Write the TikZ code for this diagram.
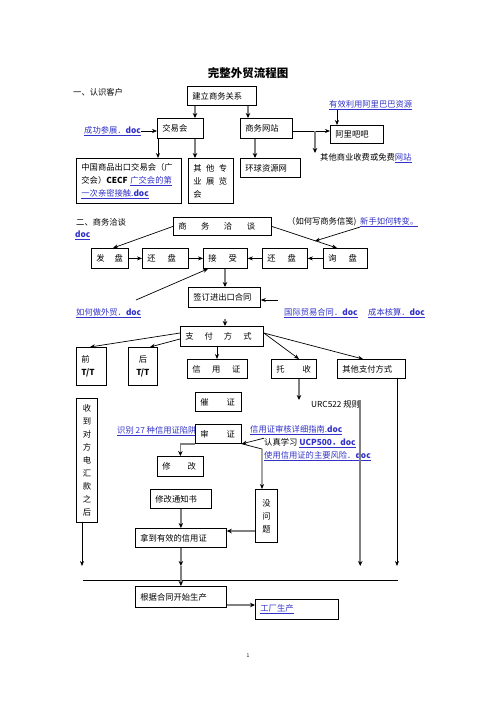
\documentclass[tikz,border=0pt]{standalone}
\usepackage{fontspec}
\setmainfont{Noto Sans CJK SC}
\usetikzlibrary{arrows.meta,calc}
\definecolor{linkblue}{RGB}{50,50,200}
\definecolor{arrgray}{RGB}{128,128,128}
\newcommand{\lnk}[1]{\textcolor{linkblue}{\underline{#1}}}

\begin{document}
\begin{tikzpicture}[x=1pt, y=-1pt,
  every node/.style={font=\fontsize{8.3}{13}\selectfont, inner sep=0pt},
  box/.style={draw, fill=white, line width=0.8pt, anchor=north west, inner xsep=5pt, inner ysep=2pt, align=left},
  arr/.style={-{Stealth[length=5pt,width=4pt]}, line width=0.7pt},
  garr/.style={-{Stealth[length=5pt,width=4.5pt,color=black]}, line width=1.6pt, draw=arrgray},
  lbl/.style={anchor=west}]
\useasboundingbox (0,0) rectangle (496,702);

\node[font=\fontsize{11.5}{14}\selectfont\bfseries] (title) at (248,73) {完整外贸流程图};

% part one
\node[lbl] (sec1) at (73,92) {一、认识客户};
\node[box, text width=59pt, minimum height=19pt] (jianli) at (187,86) {建立商务关系};
\node[box, text width=36pt, minimum height=20pt] (jyh) at (157,118) {交易会};
\node[box, text width=42pt, minimum height=20pt] (swwz) at (240,118) {商务网站};
\node[box, text width=43pt, minimum height=18pt] (albb) at (330,125) {阿里吧吧};
\node[lbl] (albbtxt) at (329,105) {\lnk{有效利用阿里巴巴资源}};
\node[lbl] (cgcz) at (84,131) {\lnk{成功参展．\textbf{doc}}};
\node[lbl] (qtsy) at (320,158) {其他商业收费或免费\lnk{网站}};
\node[box, text width=95pt, minimum height=45pt] (cnexpo) at (76,158)
  {中国商品出口交易会（广\\交会）\textbf{CECF} \lnk{广交会的第}\\\lnk{一次亲密接触.\textbf{doc}}};
\node[box, text width=35pt, minimum height=45pt] (qtzl) at (188,158)
  {\mbox{其\hspace{4.5pt}他\hspace{4.5pt}专}\\\mbox{业\hspace{4.5pt}展\hspace{4.5pt}览}\\会};
\node[box, text width=50pt, minimum height=19pt] (hqzy) at (240,158) {环球资源网};

\draw[garr] (195,0 |- jianli.south) -- (195,0 |- jyh.north);
\draw[garr] (248,0 |- jianli.south) -- (248,0 |- swwz.north);
\draw[arr] (337,0 |- albbtxt.south) -- (337,0 |- albb.north);
\draw[arr] (swwz.east |- 0,131) -- (albb.west |- 0,131);
\coordinate (br) at (315,131);
\draw[garr] (br) -- (br |- qtsy.north);
\draw[arr] (cgcz.east) -- (jyh.west |- cgcz.east);
\draw[arr, line width=1pt] (158,0 |- jyh.south) -- (158,0 |- cnexpo.north);
\draw[garr] (195,0 |- jyh.south) -- (195,0 |- qtzl.north);
\draw[garr] (255,0 |- swwz.south) -- (255,0 |- hqzy.north);

% part two
\node[lbl] (sec2) at (76,222) {二、商务洽谈};
\node[lbl] (doc2) at (75,235) {\lnk{\textbf{doc}}};
\node[lbl] (xhsj) at (287,222) {（如何写商务信笺)};
\node[lbl] (xinshou) at (360,222) {\lnk{新手如何转变。}};
\node[box, text width=88pt, minimum height=18pt] (swqt) at (173,217)
  {\mbox{商\hspace{14.5pt}务\hspace{14.5pt}洽\hspace{14.5pt}谈}};
\node[box, text width=27pt, minimum height=20pt] (fp) at (91,248) {\mbox{发\hspace{10pt}盘}};
\node[box, text width=36pt, minimum height=20pt] (hp1) at (142,248) {\mbox{还\hspace{12pt}盘}};
\node[box, text width=34pt, minimum height=20pt] (js) at (203,248) {\mbox{接\hspace{12pt}受}};
\node[box, text width=35pt, minimum height=20pt] (hp2) at (262,248) {\mbox{还\hspace{12pt}盘}};
\node[box, text width=34pt, minimum height=20pt] (xp) at (323,248) {\mbox{询\hspace{12pt}盘}};
\node[box, text width=62pt, minimum height=20pt] (qd) at (188,287) {签订进出口合同};
\node[lbl] (zwm) at (76,313) {\lnk{如何做外贸．\textbf{doc}}};
\node[lbl] (gjmy) at (284,313) {\lnk{国际贸易合同．\textbf{doc}}};
\node[lbl] (cbhs) at (368,313) {\lnk{成本核算．\textbf{doc}}};

\draw[arr] (swqt.west) -- (113,0 |- fp.north);
\draw[arr] (swqt.east) -- (337,0 |- xp.north);
\coordinate (m1) at (315,241);
\draw[arr] (xinshou.south west) -- (m1);
\draw[arr] (fp) -- (hp1);
\draw[arr] (hp1) -- (js);
\draw[arr] (hp2) -- (js);
\draw[arr] (xp) -- (hp2);
\coordinate (c1) at (136,300);
\draw[arr] (c1) -- (208,0 |- js.south);
\draw[garr] (225,0 |- js.south) -- (225,0 |- qd.north);
\coordinate (c2) at (278,300);
\draw[arr] (c2) -- (qd.east |- c2);

% payment
\node[box, text width=73pt, minimum height=20pt] (zffs) at (180,326)
  {\mbox{支\hspace{11pt}付\hspace{11pt}方\hspace{11pt}式}};
\node[box, text width=20pt, minimum height=38pt] (qian) at (76,347) {前\\\textbf{T/T}};
\node[box, text width=19pt, minimum height=38pt, align=center] (hou) at (128,347) {后\\\textbf{T/T}};
\node[box, text width=50pt, minimum height=19pt] (xyz) at (187,359) {\mbox{信\hspace{11.5pt}用\hspace{11.5pt}证}};
\node[box, text width=35pt, minimum height=19pt] (ts) at (271,359) {\mbox{托\hspace{18pt}收}};
\node[box, text width=58pt, minimum height=19pt] (qtzf) at (337,359) {其他支付方式};
\node[box, text width=36pt, minimum height=19pt] (cz) at (195,392) {\mbox{催\hspace{18pt}证}};
\node[lbl] (urc) at (311,404) {URC522 规则};
\node[box, text width=11pt, minimum height=124pt, align=center] (shoudao) at (76,398)
  {收\\到\\对\\方\\电\\汇\\款\\之\\后};

\coordinate (c3) at (225,319);
\draw[garr] (c3) -- (c3 |- zffs.north);
\draw[arr] (zffs.west |- 0,333) -- (90,0 |- qian.north);
\draw[arr] (zffs.west |- 0,339) -- (150,0 |- hou.north);
\draw[arr] (217,0 |- zffs.south) -- (217,0 |- xyz.north);
\draw[arr] (zffs.east |- 0,333) -- (299,0 |- ts.north);
\draw[arr] (zffs.east |- 0,333) -- (363,0 |- qtzf.north);
\draw[garr] (299,0 |- ts.south) -- (299,0 |- urc.north);

% letter of credit
\node[lbl] (sb27) at (117,431) {\lnk{识别 27 种信用证陷阱}};
\node[box, text width=36pt, minimum height=19pt] (sz) at (195,424) {\mbox{审\hspace{18pt}证}};
\node[lbl] (xysh) at (250,430) {\lnk{信用证审核详细指南.\textbf{doc}}};
\node[lbl, fill=white] (rz) at (264,443) {认真学习 \lnk{\textbf{UCP500．doc}}};
\node[lbl] (syfx) at (264,456) {\lnk{使用信用证的主要风险．\textbf{doc}}};
\node[box, text width=36pt, minimum height=20pt] (xg) at (157,456) {\mbox{修\hspace{17pt}改}};
\node[box, text width=51pt, minimum height=19pt] (xgtz) at (150,489) {修改通知书};
\node[box, text width=12pt, minimum height=53pt, align=center] (mwt) at (255,489) {没\\问\\题};
\node[box, text width=81pt, minimum height=19pt] (nd) at (135,528) {拿到有效的信用证};

\draw[garr] (sz.south west) -| (xg.north);
\draw[arr] (rz.north west) -- (sz.south east);
\draw[arr] (sz.south east) -- (262,449) -- (262,0 |- mwt.north);
\draw[garr] (xgtz.south) -- (xgtz.south |- nd.north);
\draw[garr] (mwt.west |- 0,531) -- (nd.east |- 0,531);

% production
\coordinate (hl) at (83,580);
\coordinate (hr) at (398,580);
\draw[line width=0.9pt] (hl) -- (hr);
\node[box, text width=81pt, minimum height=21pt] (gj) at (135,586) {根据合同开始生产};
\node[box, text width=73pt, minimum height=20pt] (gc) at (255,599) {\lnk{工厂生产}};

\draw[arr] (82,0 |- shoudao.south) -- (82,566);
\draw[garr] (urc.north east) -- (urc.north east |- 0,566);
\draw[arr] (397,0 |- qtzf.south) -- (397,566);
\draw[garr] (nd.south) -- (nd.south |- 0,566);
\draw[garr] (nd.south |- 0,566) -- (nd.south |- gj.north);
\draw[garr] (gj.east |- 0,605) -- (gc.west |- 0,605);

\node[font=\fontsize{5}{6}\selectfont] (pg) at (248,656) {1};
\end{tikzpicture}
\end{document}
